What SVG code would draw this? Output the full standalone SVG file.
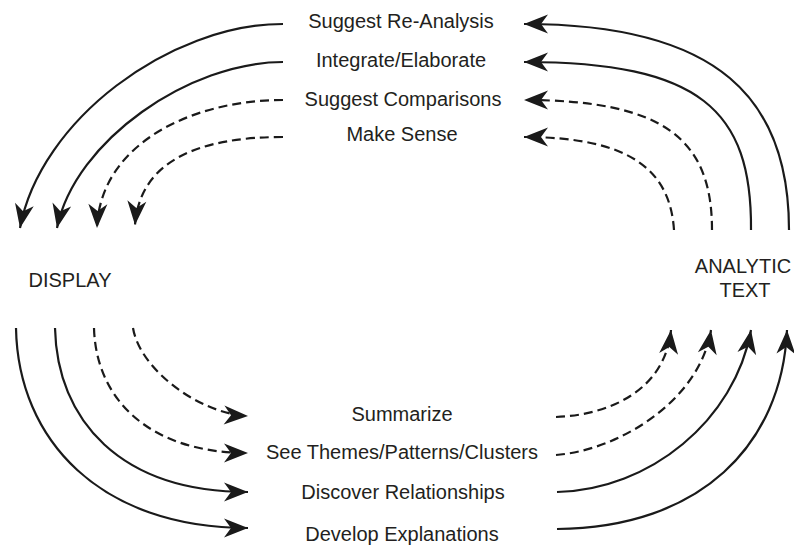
<svg xmlns="http://www.w3.org/2000/svg" width="794" height="546" viewBox="0 0 794 546">
<style>
.lbl{font-family:"Liberation Sans",Arial,sans-serif;font-size:20px;fill:#231f20;text-anchor:middle}
.c{fill:none;stroke:#1a1a1a;stroke-width:2.2;marker-end:url(#ah)}
.d{stroke-dasharray:9 5}
</style>
<defs>
<marker id="ah" markerUnits="userSpaceOnUse" viewBox="-26 -11 28 22" markerWidth="28" markerHeight="22" refX="0" refY="0" orient="auto">
<path d="M0,0 L-24,-9.5 L-17,0 L-24,9.5 Z" fill="#1a1a1a" stroke="none"/>
</marker>
</defs>
<rect width="794" height="546" fill="#fff"/>
<g id="connectors">
<path class="c" d="M283,24 C170,24 40,120 20,228"/>
<path class="c" d="M283,62 C190,62 75,140 57,228"/>
<path class="c d" d="M283,100 C190,100 100,145 97,228"/>
<path class="c d" d="M283,137 C200,137 140,160 135,225"/>
<path class="c" d="M789,230 C789,100 720,24 524,24"/>
<path class="c" d="M751,230 C752,110 700,62 524,62"/>
<path class="c d" d="M712,230 C712,140 665,100 524,100"/>
<path class="c d" d="M674,230 C670,170 630,137 524,137"/>
<path class="c" d="M16,328 C18,440 100,528 248,528"/>
<path class="c" d="M55,328 C57,420 120,492 248,492"/>
<path class="c d" d="M94,328 C96,400 150,453 248,453"/>
<path class="c d" d="M133,328 C140,370 200,414 248,416"/>
<path class="c d" d="M556,417 C610,415 665,390 671,330"/>
<path class="c d" d="M556,455 C620,450 700,400 711,330"/>
<path class="c" d="M557,492 C650,490 735,420 751,330"/>
<path class="c" d="M557,529 C700,528 782,445 787,330"/>
</g>
<g id="display"><text class="lbl" x="70" y="287">DISPLAY</text></g>
<g id="analytic-text"><text class="lbl" x="743" y="273">ANALYTIC</text><text class="lbl" x="745" y="297">TEXT</text></g>
<g id="suggest-reanalysis"><text class="lbl" x="401" y="28">Suggest Re-Analysis</text></g>
<g id="integrate-elaborate"><text class="lbl" x="401" y="67">Integrate/Elaborate</text></g>
<g id="suggest-comparisons"><text class="lbl" x="403" y="106">Suggest Comparisons</text></g>
<g id="make-sense"><text class="lbl" x="402" y="141">Make Sense</text></g>
<g id="summarize"><text class="lbl" x="402" y="421">Summarize</text></g>
<g id="see-themes"><text class="lbl" x="402" y="459">See Themes/Patterns/Clusters</text></g>
<g id="discover-relationships"><text class="lbl" x="403" y="499">Discover Relationships</text></g>
<g id="develop-explanations"><text class="lbl" x="402" y="541">Develop Explanations</text></g>
</svg>
